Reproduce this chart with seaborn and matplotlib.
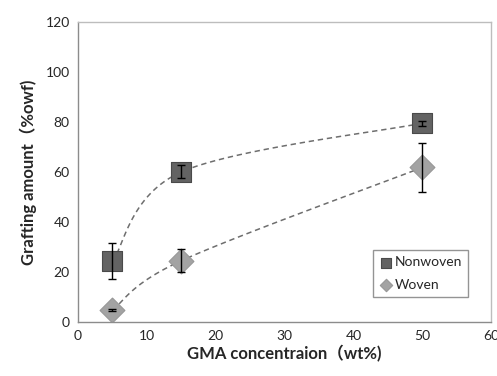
import matplotlib
matplotlib.use("Agg")
import matplotlib.pyplot as plt
import seaborn as sns
import numpy as np
import pandas as pd

# data
gma = [5, 15, 50]
nonwoven = [24.2, 60.0, 79.5]
nonwoven_err = [7.2, 2.6, 1.0]
woven = [4.8, 24.5, 61.8]
woven_err = [0.5, 4.6, 9.7]
series_names = ["Nonwoven", "Woven"]

df = pd.DataFrame({
    "gma": gma * 2,
    "amount": nonwoven + woven,
    "err": nonwoven_err + woven_err,
    "type": [series_names[0]] * 3 + [series_names[1]] * 3,
})


def smooth_line(x, y, n=60):
    # Excel-style smoothed line (cardinal bezier through the points)
    p = np.column_stack([x, y]).astype(float)
    out = []
    for i in range(len(p) - 1):
        p0 = p[i - 1] if i > 0 else p[i]
        p3 = p[i + 2] if i + 2 < len(p) else p[i + 1]
        c1 = p[i] + (p[i + 1] - p0) / 6
        c2 = p[i + 1] - (p3 - p[i]) / 6
        t = np.linspace(0, 1, n)[:, None]
        seg = ((1 - t) ** 3) * p[i] + 3 * ((1 - t) ** 2) * t * c1 \
            + 3 * (1 - t) * t ** 2 * c2 + t ** 3 * p[i + 1]
        out.append(seg)
    seg = np.vstack(out)
    return seg[:, 0], seg[:, 1]


sns.set_style("white")
plt.rcParams['font.family'] = ['Lato', 'Noto Sans CJK JP', 'DejaVu Sans']

fig = plt.figure(figsize=(4.97, 3.76), dpi=100)
ax = fig.add_axes([0.157, 0.1436, 0.831, 0.798])

colors = {"Nonwoven": "#636363", "Woven": "#a3a3a3"}
edges = {"Nonwoven": "#4a4a4a", "Woven": "#979797"}
markers = {"Nonwoven": "s", "Woven": "D"}
sizes = {"Nonwoven": 220, "Woven": 160}

for name in series_names:
    sub = df[df["type"] == name]
    sx, sy = smooth_line(sub["gma"].values, sub["amount"].values)
    ax.plot(sx, sy, ls=(0, (3.5, 2.5)), color="#6e6e6e", lw=1.1, zorder=1)

for name in series_names:
    sub = df[df["type"] == name]
    sns.scatterplot(data=sub, x="gma", y="amount", ax=ax, marker=markers[name],
                    s=sizes[name], color=colors[name], edgecolor=edges[name],
                    linewidth=0.8, label=name, zorder=2)
    ax.errorbar(sub["gma"], sub["amount"], yerr=sub["err"], fmt="none",
                ecolor="black", elinewidth=1.0, capsize=2.8, capthick=1.0, zorder=3)

ax.set_xlim(0, 60)
ax.set_ylim(0, 120)
ax.set_xticks(range(0, 61, 10))
ax.set_yticks(range(0, 121, 20))
ax.tick_params(axis="both", labelsize=10, direction="out", length=3,
               color="#8c8c8c", width=1, pad=3)

for s in ax.spines.values():
    s.set_color("#bdbdbd")
    s.set_linewidth(1.0)
ax.spines["left"].set_color("#8c8c8c")
ax.spines["bottom"].set_color("#8c8c8c")

ax.set_xlabel("GMA concentraion\uff08wt%)", fontsize=12, fontweight="bold", labelpad=2)
ax.set_ylabel("Grafting amount\uff08%owf)", fontsize=12, fontweight="bold", labelpad=6)

handles, labels = ax.get_legend_handles_labels()
leg = ax.legend(handles[:2], labels[:2], loc="lower right",
                bbox_to_anchor=(0.962, 0.06), frameon=True, fancybox=False,
                fontsize=10, handletextpad=0.1, borderpad=0.45,
                handlelength=1.0, labelspacing=0.75, markerscale=0.5)
leg.get_frame().set_edgecolor("#7a7a7a")
leg.get_frame().set_linewidth(1.0)

fig.savefig("out.png", dpi=100)
plt.close(fig)
